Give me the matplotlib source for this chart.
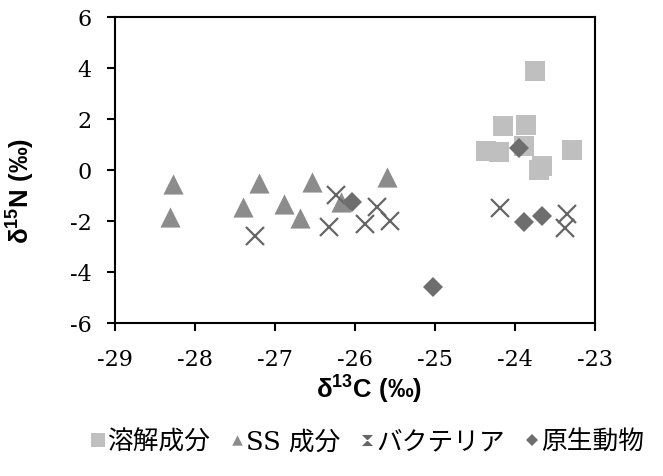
import matplotlib.pyplot as plt
from matplotlib.lines import Line2D

# データ (δ13C, δ15N)
dissolved_c = [-23.75, -24.15, -23.86, -24.36, -24.20, -23.89, -23.29, -23.66, -23.70]
dissolved_n = [3.88, 1.73, 1.77, 0.75, 0.70, 0.95, 0.77, 0.15, 0.00]

ss_c = [-28.28, -28.31, -27.20, -27.40, -26.89, -26.69, -26.54, -26.18, -25.60]
ss_n = [-0.55, -1.85, -0.50, -1.45, -1.33, -1.88, -0.47, -1.27, -0.28]

bact_c = [-27.25, -26.24, -26.33, -25.72, -25.87, -25.56, -24.19, -23.35, -23.37]
bact_n = [-2.60, -1.00, -2.25, -1.45, -2.10, -2.00, -1.50, -1.73, -2.27]

proto_c = [-26.04, -23.95, -23.89, -23.66, -25.03]
proto_n = [-1.27, 0.85, -2.03, -1.80, -4.60]

labels = ["溶解成分", "SS 成分", "バクテリア", "原生動物"]
x_ticks = [-29, -28, -27, -26, -25, -24, -23]
y_ticks = [-6, -4, -2, 0, 2, 4, 6]

col_sq = "#bfbfbf"
col_tri = "#8c8c8c"
col_x = "#666666"
col_dia = "#6e6e6e"

tri = [(-1, -1), (1, -1), (0, 1)]
hourglass = [(-1, 1), (1, 1), (-1, -1), (1, -1), (-1, 1)]

plt.rcParams["font.family"] = ["DejaVu Serif", "Noto Sans CJK JP"]
plt.rcParams["font.size"] = 16
plt.rcParams["mathtext.fontset"] = "custom"
plt.rcParams["mathtext.bf"] = "Liberation Sans:bold"
plt.rcParams["mathtext.rm"] = "Liberation Sans:bold"

fig = plt.figure(figsize=(6.63, 4.77), dpi=100)
ax = fig.add_axes([0.1735, 0.3208, 0.724, 0.6415])

ax.plot(bact_c, bact_n, linestyle="none", marker="x", markersize=13.5,
        markeredgewidth=1.6, color=col_x, zorder=3)
ax.plot(ss_c, ss_n, linestyle="none", marker=tri, markersize=14.5,
        color=col_tri, markeredgewidth=0, zorder=2)
ax.plot(dissolved_c, dissolved_n, linestyle="none", marker="s", markersize=14.5,
        color=col_sq, markeredgewidth=0, zorder=2)
ax.plot(proto_c, proto_n, linestyle="none", marker="D", markersize=10.5,
        color=col_dia, markeredgewidth=0, zorder=4)

ax.set_xlim(-29, -23)
ax.set_ylim(-6, 6)
for s in ax.spines.values():
    s.set_linewidth(1.5)
ax.tick_params(direction="out", length=6, width=1.5)
ax.tick_params(axis="x", pad=12)
ax.tick_params(axis="y", pad=11)
ax.set_xticks(x_ticks)
ax.set_yticks(y_ticks)
ax.set_xticklabels([str(v) for v in x_ticks])
ax.set_yticklabels([str(v) for v in y_ticks])
for lbl in ax.get_xticklabels() + ax.get_yticklabels():
    lbl.set_fontfamily("DejaVu Serif")
    lbl.set_fontsize(16)

ax.set_xlabel(r"δ$^{\mathbf{13}}$C (‰)", fontsize=18.5, fontweight="bold",
              family="Liberation Sans")
ax.xaxis.set_label_coords(0.53, -0.157)
ax.set_ylabel(r"δ$^{\mathbf{15}}$N (‰)", fontsize=18.5, fontweight="bold",
              family="Liberation Sans")
ax.yaxis.set_label_coords(-0.165, 0.435)

handles = [
    Line2D([], [], linestyle="none", marker="s", markersize=9.5, color=col_sq, markeredgewidth=0),
    Line2D([], [], linestyle="none", marker=tri, markersize=7.5, color=col_tri, markeredgewidth=0),
    Line2D([], [], linestyle="none", marker=hourglass, markersize=8, color=col_x, markeredgewidth=0),
    Line2D([], [], linestyle="none", marker="D", markersize=6, color=col_dia, markeredgewidth=0),
]
fig.legend(handles, labels, loc="center", bbox_to_anchor=(0.555, 0.073), ncol=4,
           frameon=False, handlelength=0.5, handletextpad=0.1, columnspacing=0.8,
           prop={"family": ["DejaVu Serif", "Noto Sans CJK JP"], "size": 18.5})

fig.savefig("out.png", dpi=100)
